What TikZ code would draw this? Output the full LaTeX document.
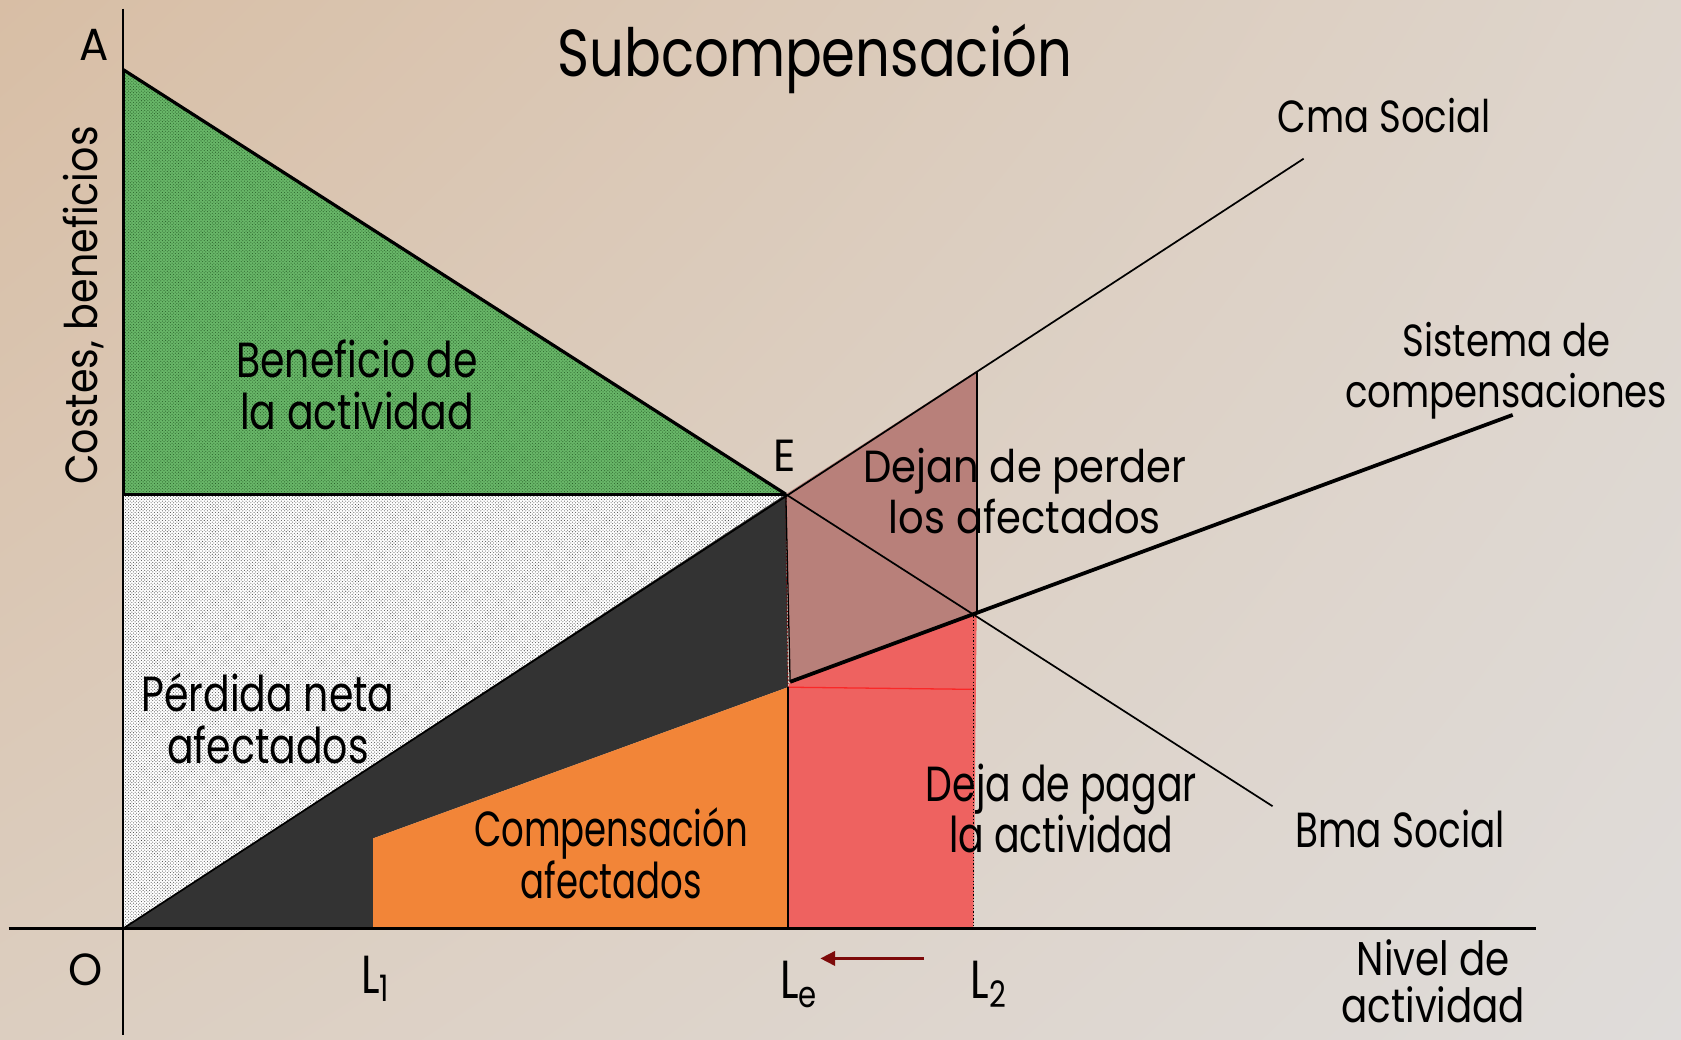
\documentclass[tikz,border=0pt]{standalone}
\usepackage{fontspec}
\setmainfont{Poppins}
\usetikzlibrary{patterns,arrows.meta,shadings}
\definecolor{bgTL}{RGB}{216,190,165}
\definecolor{bgTR}{RGB}{222,213,204}
\definecolor{bgBL}{RGB}{220,206,192}
\definecolor{bgBR}{RGB}{223,220,218}
\definecolor{grn}{RGB}{104,182,104}
\definecolor{grndot}{RGB}{40,95,40}
\definecolor{darkarea}{RGB}{51,51,51}
\definecolor{orng}{RGB}{242,133,56}
\definecolor{mauve}{RGB}{184,128,122}
\definecolor{redarea}{RGB}{238,98,96}
\definecolor{redline}{RGB}{250,40,40}
\definecolor{arrowred}{RGB}{125,10,10}
\begin{document}
\begin{tikzpicture}[x=1pt,y=-1pt,
  lbl/.style={inner sep=0pt, align=center, font=\fontsize{46}{48}\selectfont, xscale=0.8},
  wlbl/.style={inner sep=0pt, align=center, font=\fontsize{42}{48}\selectfont, xscale=0.84},
  curve/.style={line width=1.6pt, black},
  thickcurve/.style={line width=3.5pt, black}]
\useasboundingbox (0,0) rectangle (1568,970);
\begin{scope}[y=1pt]
\shade[upper left=bgTL, upper right=bgTR, lower left=bgBL, lower right=bgBR] (0,-970) rectangle (1568,0);
\end{scope}
% key points
\coordinate (O) at (115,866);
\coordinate (A) at (115,65);
\coordinate (E) at (733,461);
\coordinate (Y0) at (115,461);
\coordinate (Ctop) at (1216,148);
\coordinate (Bend) at (1187,752);
\coordinate (P) at (737,636);
\coordinate (Q) at (911,573);
\coordinate (Sysend) at (1411,387);
\coordinate (Cq) at (911,346);
\coordinate (L1top) at (348,782);
\coordinate (L1bot) at (348,866);
\coordinate (Leor) at (735,641);
\coordinate (Lebot) at (735,866);
\coordinate (L2bot) at (908,866);
\coordinate (L2or) at (908,643);
\coordinate (Qd) at (908,575);
\coordinate (Ytop) at (115,8);
\coordinate (Ybot) at (115,965);
\coordinate (Xl) at (8,866);
\coordinate (Xr) at (1433,866);
\coordinate (Ar1) at (862,894);
\coordinate (Ar2) at (765,894);
% areas
\fill[white] (O) -- (E) -- (Y0) -- cycle;
\fill[pattern=crosshatch dots, pattern color=black!70] (O) -- (E) -- (Y0) -- cycle;
\fill[grn] (A) -- (Y0) -- (E) -- cycle;
\fill[pattern=crosshatch dots, pattern color=grndot] (A) -- (Y0) -- (E) -- cycle;
\fill[darkarea] (O) -- (E) -- (Leor) -- (L1top) -- (L1bot) -- cycle;
\fill[orng] (L1top) -- (Leor) -- (Lebot) -- (L1bot) -- cycle;
\fill[mauve] (E) -- (Cq) -- (Q) -- (P) -- cycle;
\fill[redarea] (P) -- (Q) -- (L2bot) -- (Lebot) -- (Leor) -- cycle;
% inner lines
\draw[redline, line width=1.2pt] (Leor) -- (L2or);
\draw[black, line width=1.2pt, dotted] (Qd) -- (L2bot);
\draw[arrowred, line width=1.2pt, dotted] (E) -- (Leor);
\draw[black, line width=1.2pt] (E) -- (P);
\draw[black, line width=1.2pt] (Leor) -- (Lebot);
\draw[black, line width=2pt] (Cq) -- (Q);
\draw[black, line width=2.5pt] (A) -- (Y0);
\draw[black, line width=3pt] (Y0) -- (E);
\draw[black, line width=3pt] (A) -- (E);
% curves
\draw[curve] (O) -- (Ctop);
\draw[curve] (A) -- (Bend);
\draw[thickcurve] (P) -- (Sysend);
\draw[black, line width=2.5pt] (L1bot) -- (Lebot);
% axes
\draw[black, line width=1.8pt] (Ytop) -- (Ybot);
\draw[black, line width=2.2pt] (Xl) -- (Xr);
% arrow
\draw[arrowred, line width=3.5pt, -{Triangle[length=14pt,width=13pt]}] (Ar1) -- (Ar2);
% labels
\node[inner sep=0pt, font=\fontsize{62}{64}\selectfont, xscale=0.82] (title) at (760,55) {Subcompensación};
\node[wlbl, xscale=1.15] (lA) at (88,42) {A};
\node[wlbl, xscale=1.15] (lE) at (732,425) {E};
\node[wlbl, xscale=1.15] (lO) at (80,905) {O};
\node[inner sep=0pt, font=\fontsize{42}{48}\selectfont, rotate=90] (lcost) at (78,285) {\scalebox{0.88}[1]{Costes, beneficios}};
\node[wlbl, xscale=0.98] (lcma) at (1291,108) {Cma Social};
\node[wlbl, xscale=0.98] (lsis) at (1405,346) {Sistema de\\compensaciones};
\node[wlbl, xscale=1.06] (ldej) at (956,458) {Dejan de perder\\los afectados};
\node[lbl] (lben) at (333,359) {Beneficio de\\la actividad};
\node[lbl] (lper) at (250,670) {Pérdida neta\\afectados};
\node[lbl, xscale=0.9] (lcom) at (570,796) {Compensación\\afectados};
\node[lbl, xscale=0.96] (lpag) at (990,754) {Deja de pagar\\la actividad};
\node[lbl, xscale=0.95] (lbma) at (1306,773) {Bma Social};
\node[lbl, font=\fontsize{44}{44}\selectfont, xscale=1.03] (lniv) at (1337,915) {Nivel de\\actividad};
\node[lbl, font=\fontsize{50}{50}\selectfont] (lL1) at (350,913) {L\raisebox{-0.3ex}{\fontsize{34}{34}\selectfont 1}};
\node[lbl, font=\fontsize{50}{50}\selectfont] (lLe) at (745,918) {L\raisebox{-0.3ex}{\fontsize{34}{34}\selectfont e}};
\node[lbl, font=\fontsize{50}{50}\selectfont] (lL2) at (922,918) {L\raisebox{-0.3ex}{\fontsize{34}{34}\selectfont 2}};
\end{tikzpicture}
\end{document}
